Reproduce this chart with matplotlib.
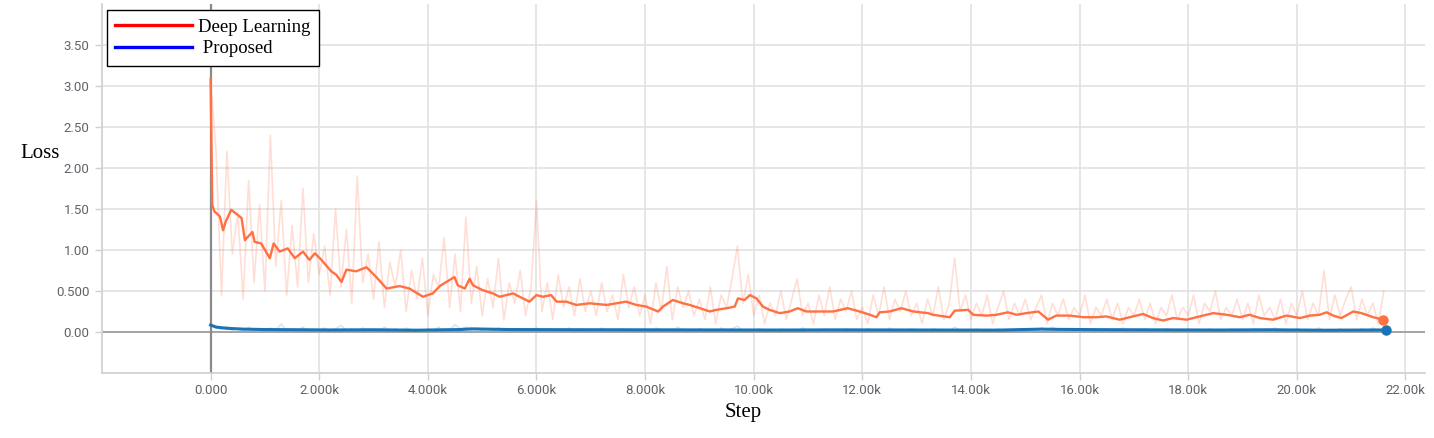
"""
Training loss per step: deep learning baseline vs proposed method.
"""
import matplotlib
matplotlib.use('Agg')
import matplotlib.pyplot as plt
from matplotlib.lines import Line2D
import numpy as np


# raw (unsmoothed) loss, one value every 100 steps from 0 to 21.6k
raw_steps = np.arange(0, 21700, 100)
dl_raw = [
    3.10, 2.20, 0.45, 2.20, 0.95, 1.45, 0.40, 1.85, 0.60, 1.55,
    0.50, 2.40, 0.80, 1.60, 0.45, 1.30, 0.55, 1.75, 0.60, 1.20,
    0.70, 1.05, 0.45, 1.50, 0.55, 1.25, 0.35, 1.90, 0.60, 0.95,
    0.40, 1.10, 0.30, 0.85, 0.55, 1.00, 0.25, 0.75, 0.40, 0.90,
    0.20, 0.70, 0.55, 1.15, 0.30, 0.95, 0.25, 1.40, 0.35, 0.80,
    0.20, 0.65, 0.30, 0.90, 0.15, 0.60, 0.35, 0.75, 0.20, 0.55,
    1.60, 0.25, 0.60, 0.15, 0.70, 0.30, 0.55, 0.20, 0.65, 0.25,
    0.50, 0.20, 0.60, 0.25, 0.45, 0.15, 0.70, 0.30, 0.55, 0.20,
    0.45, 0.10, 0.60, 0.25, 0.80, 0.15, 0.55, 0.30, 0.50, 0.20,
    0.40, 0.15, 0.55, 0.10, 0.45, 0.30, 0.65, 1.05, 0.35, 0.70,
    0.20, 0.45, 0.10, 0.35, 0.20, 0.50, 0.15, 0.40, 0.65, 0.20,
    0.35, 0.10, 0.45, 0.20, 0.55, 0.15, 0.40, 0.25, 0.50, 0.15,
    0.30, 0.10, 0.45, 0.20, 0.55, 0.15, 0.40, 0.25, 0.50, 0.20,
    0.35, 0.10, 0.40, 0.20, 0.55, 0.15, 0.35, 0.90, 0.25, 0.45,
    0.15, 0.35, 0.20, 0.45, 0.10, 0.30, 0.50, 0.15, 0.35, 0.20,
    0.40, 0.15, 0.30, 0.45, 0.10, 0.35, 0.20, 0.40, 0.15, 0.30,
    0.20, 0.45, 0.10, 0.30, 0.20, 0.40, 0.15, 0.35, 0.10, 0.30,
    0.20, 0.40, 0.15, 0.35, 0.10, 0.30, 0.20, 0.45, 0.15, 0.30,
    0.20, 0.45, 0.10, 0.35, 0.25, 0.50, 0.15, 0.30, 0.20, 0.40,
    0.15, 0.35, 0.10, 0.45, 0.20, 0.30, 0.15, 0.40, 0.10, 0.35,
    0.20, 0.50, 0.15, 0.35, 0.20, 0.75, 0.15, 0.45, 0.20, 0.40,
    0.55, 0.15, 0.40, 0.20, 0.35, 0.10, 0.50,
]
prop_raw = [
    0.09, 0.06, 0.03, 0.07, 0.02, 0.05, 0.01, 0.06, 0.02, 0.04,
    0.01, 0.05, 0.02, 0.10, 0.01, 0.04, 0.02, 0.06, 0.01, 0.03,
    0.02, 0.05, 0.01, 0.04, 0.08, 0.02, 0.04, 0.01, 0.05, 0.02,
    0.03, 0.01, 0.06, 0.02, 0.04, 0.01, 0.05, 0.02, 0.03, 0.01,
    0.04, 0.02, 0.06, 0.01, 0.03, 0.09, 0.04, 0.06, 0.02, 0.05,
    0.02, 0.04, 0.01, 0.05, 0.02, 0.03, 0.01, 0.04, 0.02, 0.03,
    0.05, 0.01, 0.04, 0.02, 0.03, 0.01, 0.05, 0.02, 0.04, 0.01,
    0.03, 0.02, 0.05, 0.01, 0.03, 0.02, 0.04, 0.01, 0.03, 0.02,
    0.04, 0.01, 0.05, 0.02, 0.03, 0.01, 0.06, 0.02, 0.03, 0.01,
    0.04, 0.02, 0.03, 0.01, 0.05, 0.02, 0.04, 0.07, 0.02, 0.03,
    0.01, 0.04, 0.02, 0.03, 0.01, 0.04, 0.02, 0.03, 0.01, 0.05,
    0.02, 0.03, 0.01, 0.04, 0.02, 0.03, 0.01, 0.04, 0.02, 0.03,
    0.01, 0.04, 0.02, 0.03, 0.01, 0.05, 0.02, 0.03, 0.01, 0.04,
    0.02, 0.03, 0.01, 0.04, 0.02, 0.03, 0.01, 0.06, 0.02, 0.03,
    0.01, 0.04, 0.02, 0.03, 0.01, 0.04, 0.02, 0.03, 0.01, 0.04,
    0.02, 0.03, 0.01, 0.05, 0.02, 0.06, 0.03, 0.04, 0.02, 0.03,
    0.01, 0.04, 0.02, 0.03, 0.01, 0.04, 0.02, 0.03, 0.05, 0.02,
    0.03, 0.01, 0.04, 0.02, 0.03, 0.01, 0.04, 0.02, 0.03, 0.01,
    0.04, 0.02, 0.03, 0.01, 0.04, 0.02, 0.03, 0.01, 0.04, 0.02,
    0.03, 0.01, 0.04, 0.02, 0.03, 0.01, 0.05, 0.02, 0.03, 0.01,
    0.04, 0.02, 0.03, 0.01, 0.05, 0.02, 0.03, 0.01, 0.04, 0.02,
    0.03, 0.01, 0.04, 0.02, 0.05, 0.02, 0.03,
]

# smoothed curves, steps in thousands
dl_steps = [
    0.00, 0.03, 0.07, 0.17, 0.23, 0.28, 0.38, 0.57, 0.63, 0.77,
    0.81, 0.93, 1.09, 1.16, 1.27, 1.42, 1.55, 1.70, 1.82, 1.92,
    2.04, 2.22, 2.31, 2.41, 2.50, 2.68, 2.87, 3.05, 3.24, 3.48,
    3.66, 3.91, 4.09, 4.22, 4.34, 4.49, 4.55, 4.68, 4.77, 4.83,
    5.01, 5.20, 5.32, 5.57, 5.75, 5.87, 6.00, 6.12, 6.27, 6.37,
    6.55, 6.73, 6.98, 7.29, 7.47, 7.65, 7.84, 8.02, 8.24, 8.33,
    8.51, 8.70, 8.82, 9.01, 9.19, 9.31, 9.50, 9.65, 9.71, 9.83,
    9.93, 10.05, 10.17, 10.29, 10.48, 10.66, 10.81, 10.97, 11.21, 11.46,
    11.73, 11.95, 12.14, 12.26, 12.32, 12.50, 12.72, 12.94, 13.21, 13.30,
    13.61, 13.70, 13.95, 14.04, 14.29, 14.47, 14.68, 14.84, 15.02, 15.24,
    15.42, 15.57, 15.82, 16.07, 16.31, 16.49, 16.74, 16.92, 17.17, 17.35,
    17.54, 17.72, 17.97, 18.21, 18.46, 18.71, 18.95, 19.13, 19.32, 19.56,
    19.81, 20.06, 20.24, 20.42, 20.55, 20.67, 20.82, 21.04, 21.19, 21.41,
    21.59,
]
dl_smooth = [
    3.08, 1.55, 1.47, 1.41, 1.24, 1.35, 1.49, 1.39, 1.12, 1.22,
    1.10, 1.08, 0.90, 1.08, 0.98, 1.02, 0.90, 0.98, 0.88, 0.96,
    0.88, 0.74, 0.70, 0.61, 0.76, 0.74, 0.79, 0.67, 0.53, 0.56,
    0.53, 0.43, 0.47, 0.56, 0.61, 0.67, 0.57, 0.53, 0.65, 0.57,
    0.51, 0.47, 0.43, 0.47, 0.41, 0.37, 0.45, 0.43, 0.45, 0.37,
    0.37, 0.33, 0.35, 0.33, 0.35, 0.37, 0.33, 0.31, 0.25, 0.31,
    0.39, 0.35, 0.33, 0.29, 0.25, 0.27, 0.29, 0.31, 0.41, 0.39,
    0.45, 0.41, 0.31, 0.27, 0.23, 0.25, 0.29, 0.25, 0.25, 0.25,
    0.29, 0.25, 0.21, 0.18, 0.24, 0.25, 0.29, 0.25, 0.23, 0.21,
    0.18, 0.26, 0.27, 0.21, 0.20, 0.21, 0.24, 0.21, 0.23, 0.25,
    0.15, 0.20, 0.20, 0.18, 0.18, 0.19, 0.15, 0.18, 0.22, 0.17,
    0.14, 0.17, 0.15, 0.19, 0.23, 0.21, 0.18, 0.21, 0.17, 0.15,
    0.20, 0.17, 0.20, 0.21, 0.24, 0.20, 0.17, 0.25, 0.23, 0.18,
    0.15,
]
prop_steps = [0.00, 0.10, 0.30, 0.60, 1.00, 1.50, 2.20, 3.00, 3.80, 4.60,
              4.80, 5.50, 6.50, 7.50, 8.50, 9.50, 10.50, 11.50, 12.50, 13.50,
              14.50, 15.30, 15.60, 16.50, 17.50, 18.50, 19.50, 20.50, 21.65]
prop_smooth = [0.085, 0.06, 0.045, 0.035, 0.03, 0.028, 0.025, 0.027, 0.022, 0.03,
               0.038, 0.03, 0.028, 0.027, 0.026, 0.025, 0.024, 0.026, 0.025, 0.024,
               0.023, 0.035, 0.032, 0.028, 0.026, 0.024, 0.027, 0.022, 0.025]

x_ticks = [0, 2000, 4000, 6000, 8000, 10000, 12000, 14000, 16000, 18000, 20000, 22000]
x_labels = ['0.000', '2.000k', '4.000k', '6.000k', '8.000k', '10.00k',
            '12.00k', '14.00k', '16.00k', '18.00k', '20.00k', '22.00k']
y_ticks = [0.0, 0.5, 1.0, 1.5, 2.0, 2.5, 3.0, 3.5]
y_labels = ['0.00', '0.500', '1.00', '1.50', '2.00', '2.50', '3.00', '3.50']

ORANGE = '#ff7043'
BLUE = '#1a74b6'


def main():
    fig = plt.figure(figsize=(14.34, 4.38), dpi=100)
    ax = fig.add_axes([102 / 1434, 1 - 373 / 438, 1323 / 1434, 369 / 438])

    # faint raw curves
    ax.plot(raw_steps, dl_raw, color=ORANGE, alpha=0.22, linewidth=1.2, zorder=2)
    ax.plot(raw_steps, prop_raw, color='#6cb6e8', alpha=0.35, linewidth=1.0, zorder=2)

    # smoothed curves
    dl_x = np.array(dl_steps) * 1000
    pr_x = np.array(prop_steps) * 1000
    ax.plot(dl_x, dl_smooth, color=ORANGE, linewidth=1.7, zorder=4)
    ax.plot(pr_x, prop_smooth, color=BLUE, linewidth=2.2, zorder=4)
    ax.plot(dl_x[-1], dl_smooth[-1], 'o', color=ORANGE, markersize=6.5, zorder=5)
    ax.plot(pr_x[-1], prop_smooth[-1], 'o', color=BLUE, markersize=6.5, zorder=5)

    ax.set_xlim(-2000, 22360)
    ax.set_ylim(-0.5, 4.0)
    ax.set_xticks(x_ticks)
    ax.set_xticklabels(x_labels)
    ax.set_yticks(y_ticks)
    ax.set_yticklabels(y_labels)

    # grid
    for xv in [-2000] + x_ticks:
        ax.axvline(xv, color='#e2e2e2', linewidth=1.2, zorder=0)
    for yv in y_ticks + [-0.5]:
        ax.axhline(yv, color='#e2e2e2', linewidth=1.2, zorder=0)
    ax.axhline(0, color='#9e9e9e', linewidth=1.3, zorder=1)
    ax.axvline(0, color='#8a8a8a', linewidth=1.6, zorder=1)

    for side in ['top', 'right']:
        ax.spines[side].set_visible(False)
    for side in ['left', 'bottom']:
        ax.spines[side].set_color('#d0d0d0')
        ax.spines[side].set_linewidth(1.2)
    ax.tick_params(axis='both', colors='#d0d0d0', length=5, width=1.0,
                   labelcolor='#5f6368', labelsize=9.5)
    ax.tick_params(axis='x', pad=3)
    ax.tick_params(axis='y', pad=4)
    for lab in ax.get_xticklabels() + ax.get_yticklabels():
        lab.set_family('Roboto')

    fig.text(40 / 1434, 1 - 153 / 438, 'Loss', family='Liberation Serif',
             fontsize=15, ha='center', va='center')
    fig.text(743 / 1434, 1 - 412 / 438, 'Step', family='Liberation Serif',
             fontsize=15, ha='center', va='center')

    handles = [Line2D([], [], color='#ff0000', linewidth=2.4),
               Line2D([], [], color='#0000ff', linewidth=2.4)]
    leg = ax.legend(handles, ['Deep Learning', ' Proposed'],
                    loc='upper left', bbox_to_anchor=(107 / 1434, 1 - 10 / 438),
                    bbox_transform=fig.transFigure, borderaxespad=0,
                    prop={'family': 'Liberation Serif', 'size': 13.5},
                    handlelength=4.1, handletextpad=0.3, labelspacing=0.25,
                    borderpad=0.45, fancybox=False, framealpha=1,
                    edgecolor='black')
    leg.get_frame().set_linewidth(1.0)

    plt.savefig('out.png', dpi=100)


if __name__ == '__main__':
    main()
